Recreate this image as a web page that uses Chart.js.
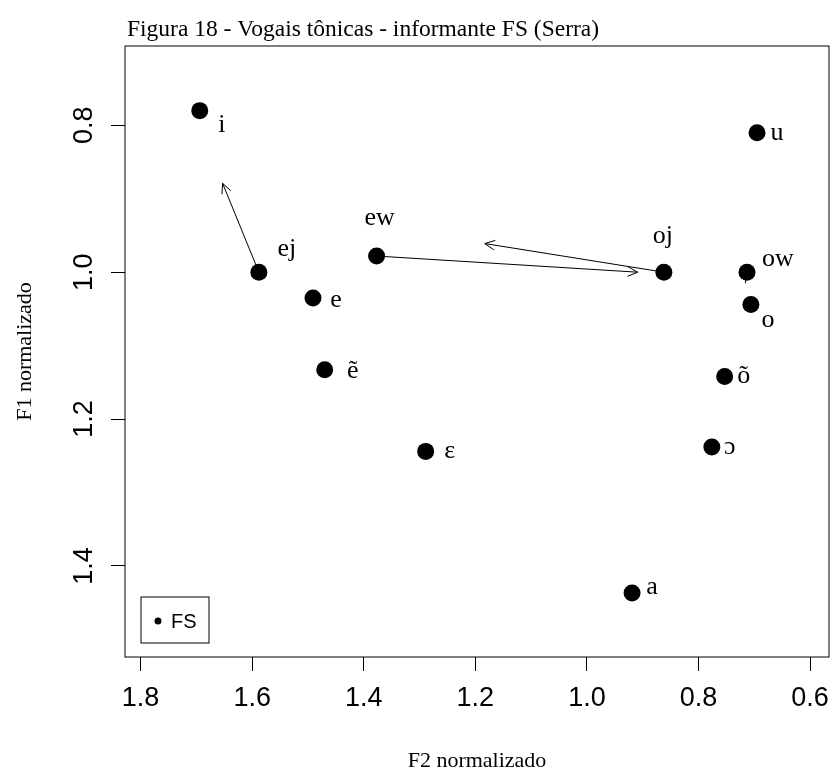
<!DOCTYPE html>
<html>
<head>
<meta charset="utf-8">
<script src="https://cdn.jsdelivr.net/npm/chart.js@4.4.0/dist/chart.umd.min.js"></script>
<style>
  html, body { margin: 0; padding: 0; background: #fff; }
</style>
</head>
<body>
<canvas id="vowelChart" width="833" height="774"></canvas>
<script>
// tonic vowels, speaker FS (Serra): normalized F2 (x) and F1 (y)
const vowels = ['i', 'u', 'ej', 'ew', 'oj', 'ow', 'e', 'o', 'ẽ', 'õ', 'ɛ', 'ɔ', 'a'];
const f2Values = [1.694, 0.695, 1.588, 1.377, 0.862, 0.713, 1.491, 0.706, 1.470, 0.753, 1.289, 0.776, 0.919];
const f1Values = [0.780, 0.810, 1.000, 0.978, 1.000, 1.000, 1.035, 1.044, 1.133, 1.142, 1.244, 1.238, 1.437];

// diphthong glides: arrow from the vowel to where the glide heads
const glideFrom = ['ej', 'ew', 'oj', 'ow'];
const glideToF2 = [1.653, 0.909, 1.183, 0.716];
const glideToF1 = [0.879, 1.000, 0.961, 1.015];

const xTicks = [1.8, 1.6, 1.4, 1.2, 1.0, 0.8, 0.6];
const yTicks = [0.8, 1.0, 1.2, 1.4];

// where each vowel label sits relative to its point (px)
const labelOffsets = {
    'i': [22, 15], 'u': [20, 1], 'ej': [28, -23], 'ew': [3, -38], 'oj': [-1, -36],
    'ow': [31, -13], 'e': [23, 2], 'o': [17, 16], 'ẽ': [28, 1], 'õ': [19, 0],
    'ɛ': [24, 0], 'ɔ': [18, 0], 'a': [20, -6]
};

const serif = '"Liberation Serif", "Times New Roman", serif';
const sans = '"Liberation Sans", Arial, sans-serif';

const glideSets = glideFrom.map((v, i) => {
    const k = vowels.indexOf(v);
    return {
        type: 'line',
        data: [{ x: f2Values[k], y: f1Values[k] }, { x: glideToF2[i], y: glideToF1[i] }],
        borderColor: '#000',
        borderWidth: 1,
        pointRadius: 0,
        fill: false,
        showLine: true
    };
});

const vowelPlot = {
    id: 'vowelPlot',
    beforeDraw(chart) {
        const ctx = chart.ctx;
        ctx.save();
        ctx.fillStyle = '#fff';
        ctx.fillRect(0, 0, chart.width, chart.height);
        ctx.restore();
    },
    afterDraw(chart) {
        const { ctx, chartArea: area, scales: { x, y } } = chart;
        ctx.save();

        // plot frame
        ctx.strokeStyle = '#000';
        ctx.lineWidth = 1;
        ctx.strokeRect(area.left, area.top, area.right - area.left, area.bottom - area.top);

        // arrow heads on the glides
        glideFrom.forEach((v, i) => {
            const k = vowels.indexOf(v);
            const x0 = x.getPixelForValue(f2Values[k]), y0 = y.getPixelForValue(f1Values[k]);
            const x1 = x.getPixelForValue(glideToF2[i]), y1 = y.getPixelForValue(glideToF1[i]);
            if (Math.hypot(x1 - x0, y1 - y0) < 15) return;
            const ang = Math.atan2(y1 - y0, x1 - x0);
            const len = 11, spread = Math.PI / 7;
            ctx.beginPath();
            ctx.moveTo(x1 - len * Math.cos(ang - spread), y1 - len * Math.sin(ang - spread));
            ctx.lineTo(x1, y1);
            ctx.lineTo(x1 - len * Math.cos(ang + spread), y1 - len * Math.sin(ang + spread));
            ctx.stroke();
        });

        // vowel labels
        ctx.fillStyle = '#000';
        ctx.font = '26px ' + serif;
        ctx.textAlign = 'center';
        ctx.textBaseline = 'middle';
        vowels.forEach((v, i) => {
            const [dx, dy] = labelOffsets[v];
            ctx.fillText(v, x.getPixelForValue(f2Values[i]) + dx, y.getPixelForValue(f1Values[i]) + dy);
        });

        // tick labels; y ones rotated like R's default axis
        ctx.font = '27px ' + sans;
        xTicks.forEach(v => {
            ctx.fillText(v.toFixed(1), x.getPixelForValue(v), area.bottom + 42);
        });
        yTicks.forEach(v => {
            ctx.save();
            ctx.translate(85, y.getPixelForValue(v));
            ctx.rotate(-Math.PI / 2);
            ctx.fillText(v.toFixed(1), 0, 0);
            ctx.restore();
        });

        // legend box
        ctx.strokeRect(141, 597, 68, 46);
        ctx.beginPath();
        ctx.arc(158, 621, 3.5, 0, Math.PI * 2);
        ctx.fill();
        ctx.font = '20px ' + sans;
        ctx.textAlign = 'left';
        ctx.fillText('FS', 171, 622);

        // figure caption
        ctx.font = '23.5px ' + serif;
        ctx.textBaseline = 'alphabetic';
        ctx.fillText('Figura 18 - Vogais tônicas - informante FS (Serra)', 127, 36);

        ctx.restore();
    }
};

new Chart(document.getElementById('vowelChart'), {
    type: 'scatter',
    data: {
        datasets: [
            {
                label: 'FS',
                data: f2Values.map((v, i) => ({ x: v, y: f1Values[i] })),
                backgroundColor: '#000',
                borderWidth: 0,
                pointRadius: 8.5,
                pointHoverRadius: 8.5
            },
            ...glideSets
        ]
    },
    options: {
        responsive: false,
        animation: false,
        events: [],
        layout: { autoPadding: false, padding: { top: 46, right: 4, left: 0, bottom: 0 } },
        plugins: {
            legend: { display: false },
            tooltip: { enabled: false }
        },
        scales: {
            x: {
                type: 'linear',
                reverse: true,
                min: 0.566,
                max: 1.828,
                afterBuildTicks: scale => { scale.ticks = xTicks.map(v => ({ value: v })); },
                afterFit: scale => { scale.height = 117; },
                border: { display: false },
                grid: { drawOnChartArea: false, drawTicks: true, tickLength: 14, color: '#000', lineWidth: 1 },
                ticks: { display: false },
                title: {
                    display: true,
                    text: 'F2 normalizado',
                    color: '#000',
                    font: { family: serif, size: 22 },
                    padding: { top: 0, bottom: 0 }
                }
            },
            y: {
                type: 'linear',
                reverse: true,
                min: 0.692,
                max: 1.524,
                afterBuildTicks: scale => { scale.ticks = yTicks.map(v => ({ value: v })); },
                afterFit: scale => { scale.width = 125; },
                border: { display: false },
                grid: { drawOnChartArea: false, drawTicks: true, tickLength: 14, color: '#000', lineWidth: 1 },
                ticks: { display: false },
                title: {
                    display: true,
                    text: 'F1 normalizado',
                    color: '#000',
                    font: { family: serif, size: 22 },
                    padding: { top: 12, bottom: 0 }
                }
            }
        }
    },
    plugins: [vowelPlot]
});
</script>
</body>
</html>
